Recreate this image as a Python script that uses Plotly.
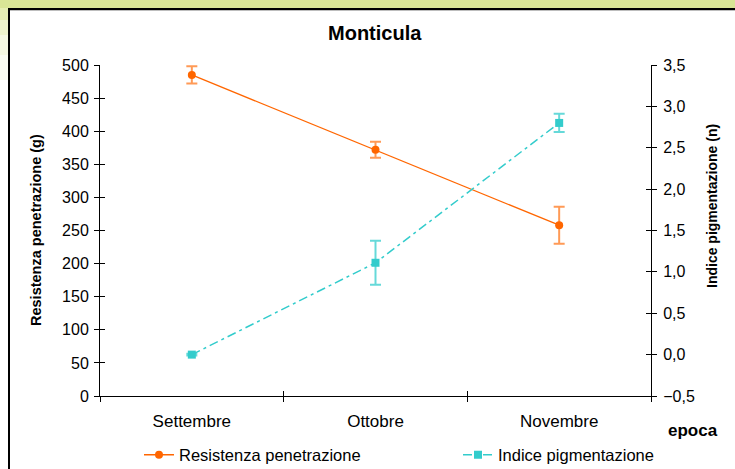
import plotly.graph_objects as go

# ---------------- data ----------------
months = ["Settembre", "Ottobre", "Novembre"]
resistenza = [485, 372, 258]
resistenza_err = [13, 12, 28]
indice = [0.0, 1.11, 2.80]
indice_err = [0.01, 0.265, 0.11]

left_ticks = [0, 50, 100, 150, 200, 250, 300, 350, 400, 450, 500]
right_ticks = [-0.5, 0.0, 0.5, 1.0, 1.5, 2.0, 2.5, 3.0, 3.5]

W, H = 735, 469
L, R, T, B = 100, 651, 65, 396  # plot area in pixels
FONT = "Liberation Sans"


def px(xp):
    return (xp - L) / (R - L)


def py(yp):
    return (B - yp) / (B - T)


ORANGE = "#FF6600"
CYAN = "#33CCCC"

fig = go.Figure()

fig.add_trace(go.Scatter(
    x=months, y=resistenza, name="Resistenza penetrazione",
    mode="lines+markers",
    line=dict(color=ORANGE, width=1.3),
    marker=dict(symbol="circle", size=8, color=ORANGE),
    error_y=dict(type="data", array=resistenza_err, visible=True,
                 color="rgba(255,120,30,0.75)", thickness=2, width=5.5),
    xaxis="x", yaxis="y", legend="legend",
))

fig.add_trace(go.Scatter(
    x=months, y=indice, name="Indice pigmentazione",
    mode="lines+markers",
    line=dict(color=CYAN, width=1.5, dash="9px,4px,3px,4px"),
    marker=dict(symbol="square", size=8, color=CYAN),
    error_y=dict(type="data", array=indice_err, visible=True,
                 color="rgba(51,204,204,0.75)", thickness=2, width=5.5),
    xaxis="x", yaxis="y2", legend="legend2",
))

# dummy traces to show inner halves of cross ticks
fig.add_trace(go.Scatter(x=[None], y=[None], xaxis="x2", yaxis="y3",
                         showlegend=False, hoverinfo="skip"))
fig.add_trace(go.Scatter(x=[None], y=[None], xaxis="x2", yaxis="y4",
                         showlegend=False, hoverinfo="skip"))

axis_common = dict(showgrid=False, zeroline=False, linecolor="black",
                   linewidth=1, tickcolor="black", ticklen=5, tickwidth=1,
                   automargin=False)
yfont = dict(family=FONT, size=16, color="black")
xfont = dict(family=FONT, size=17, color="black")
legfont = dict(family=FONT, size=16.5, color="black")

fig.update_layout(
    width=W, height=H,
    margin=dict(l=L, r=W - R, t=T, b=H - B, autoexpand=False),
    paper_bgcolor="white", plot_bgcolor="white",
    separators=",.",
    font=dict(family=FONT, size=16, color="black"),
    showlegend=True,
    legend=dict(orientation="h", x=px(139), y=py(455), xanchor="left",
                yanchor="middle", font=legfont, bgcolor="rgba(0,0,0,0)"),
    legend2=dict(orientation="h", x=px(458), y=py(455), xanchor="left",
                 yanchor="middle", font=legfont, bgcolor="rgba(0,0,0,0)"),
    xaxis=dict(type="category", categoryarray=months, categoryorder="array",
               range=[-0.5, 2.5], showline=True, ticks="outside",
               tickson="boundaries", ticklabelstandoff=10, tickfont=xfont,
               **axis_common),
    xaxis2=dict(overlaying="x", range=[-0.5, 2.5], tickvals=[-0.5, 0.5, 1.5, 2.5],
                ticks="inside", showticklabels=False, showline=False,
                side="bottom", anchor="y3", **axis_common),
    yaxis=dict(range=[0, 500], tickvals=left_ticks, showline=True,
               ticks="outside", ticklabelstandoff=2, tickfont=yfont,
               **axis_common),
    yaxis2=dict(range=[-0.5, 3.5], tickvals=right_ticks, tickformat=".1f",
                overlaying="y", side="right", showline=True,
                ticks="outside", ticklabelstandoff=3, anchor="x",
                tickfont=yfont, **axis_common),
    yaxis3=dict(range=[0, 500], tickvals=left_ticks, overlaying="y",
                side="left", ticks="inside", showticklabels=False,
                showline=False, anchor="x2", **axis_common),
    yaxis4=dict(range=[-0.5, 3.5], tickvals=right_ticks, overlaying="y",
                side="right", ticks="inside", showticklabels=False,
                showline=False, anchor="x2", **axis_common),
)

# ---- frame (gradient band + black border) ----
shapes = []
shapes.append(dict(type="rect", xref="paper", yref="paper",
                   x0=px(0), x1=px(W), y0=py(0), y1=py(8.5),
                   fillcolor="#d9e596", line=dict(width=0), layer="below"))
left_band = [(8, 20, "#e6eeb4"), (20, 35, "#eef3cc"), (35, 55, "#f5f8e2"),
             (55, 80, "#fafcf2")]
for y0, y1, c in left_band:
    shapes.append(dict(type="rect", xref="paper", yref="paper",
                       x0=px(0), x1=px(8), y0=py(y0), y1=py(y1),
                       fillcolor=c, line=dict(width=0), layer="below"))
shapes.append(dict(type="line", xref="paper", yref="paper",
                   x0=px(8), x1=px(W), y0=py(9), y1=py(9),
                   line=dict(color="black", width=2)))
shapes.append(dict(type="line", xref="paper", yref="paper",
                   x0=px(10), x1=px(W), y0=py(10.5), y1=py(10.5),
                   line=dict(color="#bdbdbd", width=1)))
shapes.append(dict(type="line", xref="paper", yref="paper",
                   x0=px(9), x1=px(9), y0=py(8), y1=py(H),
                   line=dict(color="black", width=2)))
fig.update_layout(shapes=shapes)

# ---- titles ----
fig.add_annotation(text="Monticula", xref="paper", yref="paper",
                   x=px(375), y=py(33), showarrow=False,
                   xanchor="center", yanchor="middle",
                   font=dict(family=FONT, size=20, color="black", weight="bold"))
fig.add_annotation(text="Resistenza penetrazione (g)", xref="paper", yref="paper",
                   x=px(36), y=py(230), showarrow=False, textangle=-90,
                   xanchor="center", yanchor="middle",
                   font=dict(family=FONT, size=14.5, color="black", weight="bold"))
fig.add_annotation(text="Indice pigmentazione (n)", xref="paper", yref="paper",
                   x=px(712), y=py(206), showarrow=False, textangle=-90,
                   xanchor="center", yanchor="middle",
                   font=dict(family=FONT, size=14, color="black", weight="bold"))
fig.add_annotation(text="epoca", xref="paper", yref="paper",
                   x=px(693), y=py(431), showarrow=False,
                   xanchor="center", yanchor="middle",
                   font=dict(family=FONT, size=17, color="black", weight="bold"))

fig.write_html("out.html",
               config={"displayModeBar": False},
               post_script="document.body.style.margin='0px';")
